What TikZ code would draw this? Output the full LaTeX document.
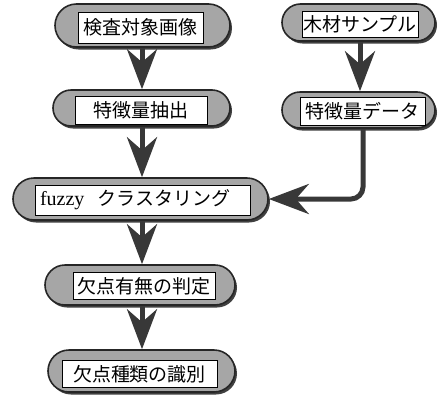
\documentclass[tikz,border=0pt]{standalone}
\usepackage{fontspec}
\setmainfont{Liberation Serif}
\newfontfamily\jp{Noto Sans CJK JP}
\usetikzlibrary{shapes.misc,arrows.meta,shadows}
\begin{document}
\begin{tikzpicture}[x=1pt,y=-1pt,
  pill/.style={rounded rectangle, draw=black!85, line width=1.6pt, fill=gray!70, inner sep=0pt,
    drop shadow={shadow xshift=2pt,shadow yshift=-2.5pt,fill=black!75,opacity=1}},
  lbl/.style={draw=black, line width=1pt, fill=white, inner sep=0pt,
    font=\jp\fontsize{19}{19}\selectfont},
  flow/.style={draw=black!78, line width=5pt, rounded corners=12pt,
    -{Stealth[length=40pt 0,width=30pt 0,inset=13pt 0]}}]
\useasboundingbox (0,0) rectangle (445,397);
% nodes
\node[pill, minimum width=175pt, minimum height=43pt] (p1) at (142.5,25.5) {};
\node[lbl, minimum width=125pt, minimum height=31pt] (t1) at (140.5,27.5) {検査対象画像};
\node[pill, minimum width=177pt, minimum height=36pt] (p2) at (141.5,108) {};
\node[lbl, minimum width=132pt, minimum height=28pt] (t2) at (141,110) {特徴量抽出};
\node[pill, minimum width=153pt, minimum height=37pt] (p3) at (358.5,22.5) {};
\node[lbl, minimum width=116pt, minimum height=26pt] (t3) at (360,24) {木材サンプル};
\node[pill, minimum width=153pt, minimum height=36pt] (p4) at (358.5,110) {};
\node[lbl, minimum width=125pt, minimum height=28pt] (t4) at (362.5,111) {特徴量データ};
\node[pill, minimum width=255pt, minimum height=42pt] (p5) at (140.5,199) {};
\node[lbl, minimum width=215pt, minimum height=30pt] (t5) at (142.5,200)
  {\makebox[205pt][l]{\rmfamily\fontsize{20}{20}\selectfont fuzzy\hspace{13pt}\jp\fontsize{19}{19}\selectfont クラスタリング}};
\node[pill, minimum width=190pt, minimum height=40pt] (p6) at (140,285) {};
\node[lbl, minimum width=142pt, minimum height=27pt] (t6) at (144,286) {欠点有無の判定};
\node[pill, minimum width=187pt, minimum height=42pt] (p7) at (141.5,371) {};
\node[lbl, minimum width=155pt, minimum height=27pt] (t7) at (139.5,374) {欠点種類の識別};
% connectors
\draw[flow] (p1.south -| 142,0) -- (p2.north -| 142,0);
\draw[flow] (p2.south -| 142,0) -- (p5.north -| 142,0);
\draw[flow] (p3.south -| 360,0) -- (p4.north -| 360,0);
\draw[flow] (p4.south -| 363,0) |- (p5.east);
\draw[flow] (p5.south -| 142,0) -- (p6.north -| 142,0);
\draw[flow] (p6.south -| 142,0) -- (p7.north -| 142,0);
\end{tikzpicture}
\end{document}
